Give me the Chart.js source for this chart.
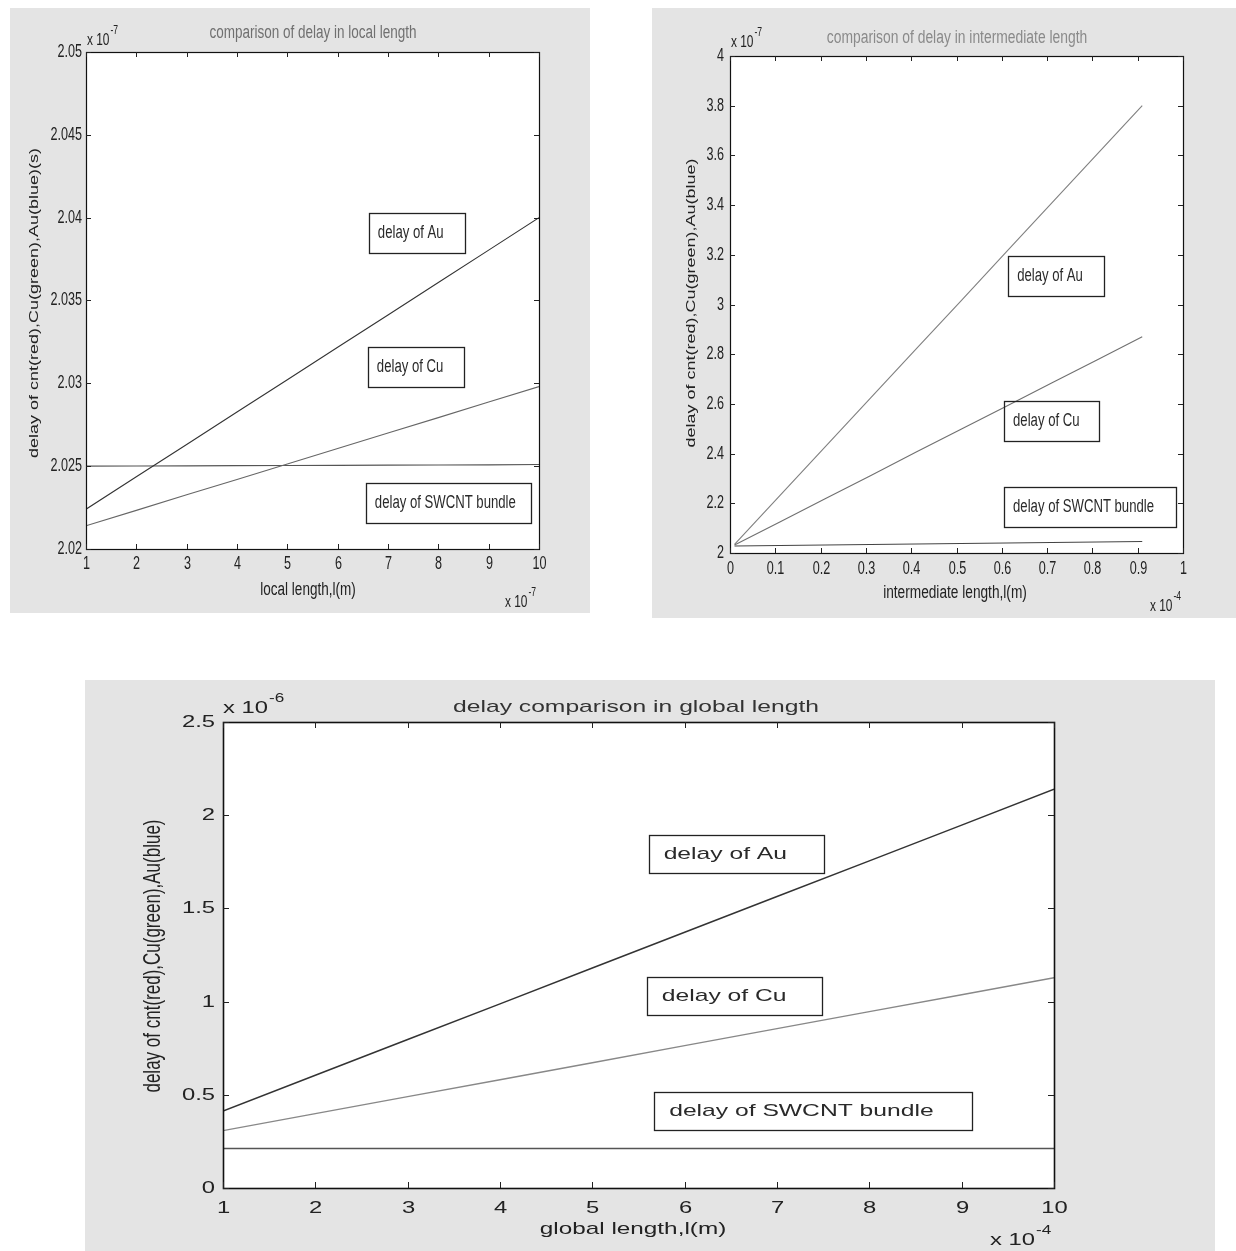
<!DOCTYPE html>
<html><head><meta charset="utf-8">
<script src="https://cdn.jsdelivr.net/npm/chart.js@4.4.0/dist/chart.umd.min.js"></script>
<style>
html,body{margin:0;padding:0;background:#fff;}
body{width:1236px;height:1251px;position:relative;overflow:hidden;}
.panel{position:absolute;background:#e4e4e4;}
.panel canvas{position:absolute;left:0;top:0;}
</style></head>
<body>
<div class="panel" id="p1"><canvas id="c1"></canvas></div>
<div class="panel" id="p2"><canvas id="c2"></canvas></div>
<div class="panel" id="p3"><canvas id="c3"></canvas></div>
<script>
// ---------- data ----------
const seriesNames = ['delay of Au', 'delay of Cu', 'delay of SWCNT bundle'];

// local length (x 1e-7 m), delay (x 1e-7 s)
const localLength = [1, 2, 3, 4, 5, 6, 7, 8, 9, 10];
const localAu     = [2.02240, 2.02436, 2.02631, 2.02827, 2.03022, 2.03218, 2.03413, 2.03609, 2.03804, 2.04000];
const localCu     = [2.02140, 2.02233, 2.02327, 2.02420, 2.02513, 2.02607, 2.02700, 2.02793, 2.02887, 2.02980];
const localSwcnt  = [2.02500, 2.02501, 2.02502, 2.02503, 2.02504, 2.02505, 2.02506, 2.02507, 2.02508, 2.02510];
const localXRange = [1, 10, 1];
const localYRange = [2.02, 2.05, 0.005];

// intermediate length (x 1e-4 m), delay (x 1e-7 s)
const interLength = [0.01, 0.11, 0.21, 0.31, 0.41, 0.51, 0.61, 0.71, 0.81, 0.91];
const interAu     = [2.035, 2.231, 2.427, 2.623, 2.819, 3.015, 3.212, 3.408, 3.604, 3.800];
const interCu     = [2.032, 2.125, 2.218, 2.311, 2.405, 2.498, 2.591, 2.684, 2.777, 2.870];
const interSwcnt  = [2.028, 2.030, 2.032, 2.034, 2.036, 2.038, 2.040, 2.042, 2.044, 2.046];
const interXRange = [0, 1, 0.1];
const interYRange = [2, 4, 0.2];

// global length (x 1e-4 m), delay (x 1e-6 s)
const globalLength = [1, 2, 3, 4, 5, 6, 7, 8, 9, 10];
const globalAu     = [0.413, 0.605, 0.797, 0.988, 1.180, 1.372, 1.564, 1.755, 1.947, 2.139];
const globalCu     = [0.308, 0.399, 0.490, 0.581, 0.672, 0.764, 0.855, 0.946, 1.037, 1.128];
const globalSwcnt  = [0.212, 0.212, 0.212, 0.212, 0.212, 0.212, 0.212, 0.212, 0.212, 0.212];
const globalXRange = [1, 10, 1];
const globalYRange = [0, 2.5, 0.5];

// ---------- drawing helpers ----------
const FONT = '"Liberation Sans", Arial, Helvetica, sans-serif';
function txt(ctx, s, x, y, size, o) {
  o = o || {};
  ctx.save();
  ctx.translate(x, y);
  if (o.rot) { ctx.rotate(o.rot); ctx.scale(1, o.sy || 1); }
  else ctx.scale(o.sx || 1, 1);
  ctx.font = size + 'px ' + FONT;
  ctx.fillStyle = o.color || '#222';
  ctx.textAlign = o.align || 'center';
  ctx.textBaseline = o.base || 'middle';
  ctx.fillText(s, 0, 0);
  ctx.restore();
}
function expo(ctx, x, y, exp, size, sx, color) {
  txt(ctx, 'x 10', x, y, size, {sx: sx, align: 'left', color: color});
  ctx.save(); ctx.font = size + 'px ' + FONT;
  const w = ctx.measureText('x 10').width * sx; ctx.restore();
  txt(ctx, exp, x + w + 1, y - size * 0.55, size * 0.72, {sx: sx, align: 'left', color: color});
}
const fmt = v => String(parseFloat(v.toFixed(4)));

function decoPlugin(cfg) {
  const pane = cfg.pane, d = cfg.deco;
  const P = x => x - pane.left, Q = y => y - pane.top;
  return {
    id: 'deco',
    beforeDraw(chart) {
      const a = chart.chartArea, ctx = chart.ctx;
      ctx.save(); ctx.fillStyle = '#fff';
      ctx.fillRect(a.left, a.top, a.right - a.left, a.bottom - a.top);
      ctx.restore();
    },
    afterDraw(chart) {
      const ctx = chart.ctx, a = chart.chartArea, xs = chart.scales.x, ys = chart.scales.y;
      ctx.save();
      // annotation boxes
      ctx.strokeStyle = '#222'; ctx.lineWidth = 1.3;
      cfg.boxes.forEach((b, i) => {
        const x0 = xs.getPixelForValue(b[0]), y0 = ys.getPixelForValue(b[1]);
        const x1 = xs.getPixelForValue(b[2]), y1 = ys.getPixelForValue(b[3]);
        ctx.strokeRect(Math.round(x0) + 0.5, Math.round(y0) + 0.5, Math.round(x1 - x0), Math.round(y1 - y0));
        txt(ctx, seriesNames[i], x0 + d.annPad, (y0 + y1) / 2, d.annSize, {sx: d.annSx, align: 'left', color: '#2a2a2a'});
      });
      // frame
      ctx.strokeStyle = '#111'; ctx.lineWidth = d.frameW;
      ctx.strokeRect(a.left + 0.5, a.top + 0.5, a.right - a.left, a.bottom - a.top);
      // inward ticks + labels
      ctx.lineWidth = 1; ctx.strokeStyle = '#222';
      const tl = d.tickLen;
      xs.ticks.forEach(t => {
        const px = Math.round(xs.getPixelForValue(t.value)) + 0.5;
        ctx.beginPath();
        ctx.moveTo(px, a.bottom); ctx.lineTo(px, a.bottom - tl);
        ctx.moveTo(px, a.top); ctx.lineTo(px, a.top + tl);
        ctx.stroke();
        txt(ctx, fmt(t.value), px, Q(d.xLabelY), d.tickSize, {sx: d.tickSx, color: '#222'});
      });
      ys.ticks.forEach(t => {
        const py = Math.round(ys.getPixelForValue(t.value)) + 0.5;
        ctx.beginPath();
        ctx.moveTo(a.left, py); ctx.lineTo(a.left + tl, py);
        ctx.moveTo(a.right, py); ctx.lineTo(a.right - tl, py);
        ctx.stroke();
        txt(ctx, fmt(t.value), P(d.yLabelRight), py, d.tickSize, {sx: d.tickSx, align: 'right', color: '#222'});
      });
      // titles
      txt(ctx, d.title.text, P(d.title.x), Q(d.title.y), d.title.size, {sx: d.title.sx, color: d.title.color});
      txt(ctx, d.xTitle.text, P(d.xTitle.x), Q(d.xTitle.y), d.xTitle.size, {sx: d.xTitle.sx, color: '#222'});
      txt(ctx, d.yTitle.text, P(d.yTitle.x), Q(d.yTitle.y), d.yTitle.size, {rot: -Math.PI / 2, sy: d.yTitle.sy, color: '#222'});
      expo(ctx, P(d.expTop.x), Q(d.expTop.y), d.expTop.exp, d.expSize, d.tickSx, '#222');
      expo(ctx, P(d.expBot.x), Q(d.expBot.y), d.expBot.exp, d.expSize, d.tickSx, '#222');
      ctx.restore();
    }
  };
}

function makeChart(id, cfg) {
  const pane = cfg.pane, A = cfg.area;
  const canvas = document.getElementById(id);
  const wrap = canvas.parentElement;
  wrap.style.left = pane.left + 'px'; wrap.style.top = pane.top + 'px';
  wrap.style.width = pane.w + 'px'; wrap.style.height = pane.h + 'px';
  canvas.width = pane.w; canvas.height = pane.h;
  canvas.style.width = pane.w + 'px'; canvas.style.height = pane.h + 'px';
  const padTop = A.T - pane.top, padRight = pane.left + pane.w - A.R;
  const yW = A.L - pane.left, xH = pane.top + pane.h - A.B;
  new Chart(canvas, {
    type: 'line',
    data: {
      datasets: cfg.series.map((s, k) => ({
        label: seriesNames[k],
        data: cfg.x.map((x, i) => ({x: x, y: s.values[i]})),
        borderColor: s.color, borderWidth: s.width,
        pointRadius: 0, fill: false, tension: 0
      }))
    },
    options: {
      responsive: false, animation: false, events: [],
      layout: {padding: {top: padTop, right: padRight, left: 0, bottom: 0}},
      plugins: {legend: {display: false}, tooltip: {enabled: false}, title: {display: false}},
      scales: {
        x: {type: 'linear', min: cfg.xr[0], max: cfg.xr[1],
            ticks: {stepSize: cfg.xr[2], display: false}, grid: {display: false}, border: {display: false},
            afterFit(s) { s.height = xH; }},
        y: {type: 'linear', min: cfg.yr[0], max: cfg.yr[1],
            ticks: {stepSize: cfg.yr[2], display: false}, grid: {display: false}, border: {display: false},
            afterFit(s) { s.width = yW; }}
      }
    },
    plugins: [decoPlugin(cfg)]
  });
}

makeChart('c1', {
  pane: {left: 10, top: 8, w: 580, h: 605},
  area: {L: 86, T: 52, R: 539, B: 549},
  x: localLength, xr: localXRange, yr: localYRange,
  series: [
    {values: localAu, color: '#333', width: 1.1},
    {values: localCu, color: '#666', width: 1.1},
    {values: localSwcnt, color: '#555', width: 1.1}
  ],
  boxes: [[6.62, 2.0403, 8.53, 2.0379], [6.60, 2.0322, 8.51, 2.0298], [6.56, 2.0240, 9.84, 2.0216]],
  deco: {
    tickLen: 5, tickSize: 18, tickSx: 0.7, yLabelRight: 82, xLabelY: 564, frameW: 1.2,
    title: {text: 'comparison of delay in local length', x: 313, y: 33, size: 18, sx: 0.75, color: '#707070'},
    xTitle: {text: 'local length,l(m)', x: 308, y: 590, size: 18, sx: 0.75},
    yTitle: {text: 'delay of cnt(red),Cu(green),Au(blue)(s)', x: 34, y: 303, size: 18, sy: 0.75},
    expTop: {x: 87, y: 40, exp: '-7'}, expBot: {x: 505, y: 602, exp: '-7'}, expSize: 17,
    annSize: 18, annSx: 0.73, annPad: 9
  }
});

makeChart('c2', {
  pane: {left: 652, top: 8, w: 584, h: 610},
  area: {L: 730, T: 56, R: 1183, B: 553},
  x: interLength, xr: interXRange, yr: interYRange,
  series: [
    {values: interAu, color: '#808080', width: 1.1},
    {values: interCu, color: '#707070', width: 1.1},
    {values: interSwcnt, color: '#444', width: 1.1}
  ],
  boxes: [[0.614, 3.195, 0.826, 3.034], [0.605, 2.612, 0.815, 2.451], [0.605, 2.266, 0.985, 2.105]],
  deco: {
    tickLen: 5, tickSize: 18, tickSx: 0.7, yLabelRight: 724, xLabelY: 569, frameW: 1.2,
    title: {text: 'comparison of delay in intermediate length', x: 957, y: 38, size: 18, sx: 0.77, color: '#8a8a8a'},
    xTitle: {text: 'intermediate length,l(m)', x: 955, y: 593, size: 18, sx: 0.76},
    yTitle: {text: 'delay of cnt(red),Cu(green),Au(blue)', x: 691, y: 303, size: 18, sy: 0.75},
    expTop: {x: 731, y: 42, exp: '-7'}, expBot: {x: 1150, y: 606, exp: '-4'}, expSize: 17,
    annSize: 18, annSx: 0.73, annPad: 9
  }
});

makeChart('c3', {
  pane: {left: 85, top: 680, w: 1130, h: 571},
  area: {L: 223, T: 722, R: 1054, B: 1188},
  x: globalLength, xr: globalXRange, yr: globalYRange,
  series: [
    {values: globalAu, color: '#333', width: 1.5},
    {values: globalCu, color: '#888', width: 1.4},
    {values: globalSwcnt, color: '#555', width: 1.3}
  ],
  boxes: [[5.61, 1.894, 7.50, 1.690], [5.59, 1.132, 7.48, 0.928], [5.67, 0.515, 9.11, 0.311]],
  deco: {
    tickLen: 6, tickSize: 17, tickSx: 1.4, yLabelRight: 215, xLabelY: 1208, frameW: 1.6,
    title: {text: 'delay comparison in global length', x: 636, y: 707, size: 17, sx: 1.45, color: '#333'},
    xTitle: {text: 'global length,l(m)', x: 633, y: 1229, size: 17, sx: 1.43},
    yTitle: {text: 'delay of cnt(red),Cu(green),Au(blue)', x: 153, y: 956, size: 17, sy: 1.45},
    expTop: {x: 223, y: 708, exp: '-6'}, expBot: {x: 990, y: 1240, exp: '-4'}, expSize: 17,
    annSize: 17, annSx: 1.45, annPad: 15
  }
});
</script>
</body></html>
